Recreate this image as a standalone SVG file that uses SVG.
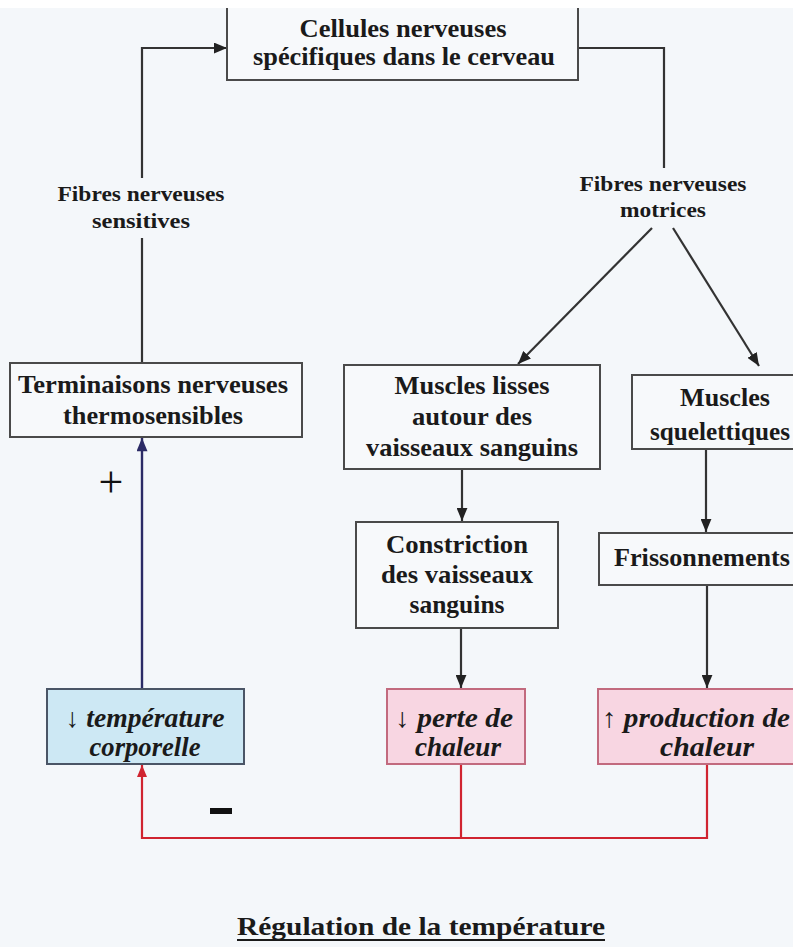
<svg xmlns="http://www.w3.org/2000/svg" width="793" height="947" viewBox="0 0 793 947">
<defs>
<style>
.bg{fill:#f4f7fa}
.box{fill:#f7f9fb;stroke:#4a4a4a;stroke-width:2}
.blue{fill:#cde8f4;stroke:#4a5566;stroke-width:2}
.pink{fill:#f8d6e2;stroke:#c26a7e;stroke-width:2}
.t{font-family:"Liberation Serif","Times New Roman",serif;font-weight:bold;font-size:26px;fill:#1a1a1a}
.ti{font-family:"Liberation Serif","Times New Roman",serif;font-weight:bold;font-style:italic;font-size:27px;fill:#1a1a1a}
.s{font-family:"Liberation Serif","Times New Roman",serif;font-weight:bold;font-size:21px;fill:#1a1a1a}
.ln{fill:none;stroke:#333;stroke-width:2.2}
.lb{fill:none;stroke:#2b2b66;stroke-width:2.4}
.lr{fill:none;stroke:#d02430;stroke-width:2.2}
</style>
<marker id="ak" viewBox="0 0 12 10" refX="12" refY="5" markerWidth="13" markerHeight="11" orient="auto" markerUnits="userSpaceOnUse"><path d="M0,0L12,5L0,10z" fill="#222"/></marker>
<marker id="ab" viewBox="0 0 12 10" refX="12" refY="5" markerWidth="14" markerHeight="11" orient="auto" markerUnits="userSpaceOnUse"><path d="M0,0L12,5L0,10z" fill="#2b2b66"/></marker>
<marker id="ar" viewBox="0 0 12 10" refX="12" refY="5" markerWidth="12" markerHeight="10" orient="auto" markerUnits="userSpaceOnUse"><path d="M0,0L12,5L0,10z" fill="#d02430"/></marker>
</defs>
<rect x="0" y="0" width="793" height="947" fill="#ffffff"/>
<rect class="bg" x="0" y="8" width="793" height="939"/>

<g id="connectors">
<polyline class="ln" points="142,178 142,48 227,48" marker-end="url(#ak)"/>
<line class="ln" x1="142" y1="238" x2="142" y2="363"/>
<polyline class="ln" points="578,48 664,48 664,168"/>
<line class="ln" x1="652" y1="228" x2="518" y2="364" marker-end="url(#ak)"/>
<line class="ln" x1="673" y1="228" x2="759" y2="366" marker-end="url(#ak)"/>
<line class="ln" x1="462" y1="469" x2="462" y2="521" marker-end="url(#ak)"/>
<line class="ln" x1="706" y1="449" x2="706" y2="532" marker-end="url(#ak)"/>
<line class="ln" x1="461" y1="628" x2="461" y2="688" marker-end="url(#ak)"/>
<line class="ln" x1="707" y1="585" x2="707" y2="688" marker-end="url(#ak)"/>
<line class="lb" x1="142" y1="689" x2="142" y2="438" marker-end="url(#ab)"/>
<polyline class="lr" points="461,764 461,838"/>
<polyline class="lr" points="707,764 707,838 142,838 142,765" marker-end="url(#ar)"/>
<text class="s" x="141" y="201" text-anchor="middle" textLength="167" lengthAdjust="spacingAndGlyphs">Fibres nerveuses</text>
<text class="s" x="141" y="228" text-anchor="middle" textLength="98" lengthAdjust="spacingAndGlyphs">sensitives</text>
<text class="s" x="663" y="191" text-anchor="middle" textLength="167" lengthAdjust="spacingAndGlyphs">Fibres nerveuses</text>
<text class="s" x="663" y="217" text-anchor="middle" textLength="86" lengthAdjust="spacingAndGlyphs">motrices</text>
<text x="111" y="497" text-anchor="middle" font-family="Liberation Serif, serif" font-size="44" fill="#111">+</text>
<rect x="210" y="808" width="22" height="6" fill="#111"/>
</g>

<g id="cerveau">
<path class="box" d="M227,8 V80 H578 V8"/>
<text class="t" x="403" y="37" text-anchor="middle" textLength="207" lengthAdjust="spacingAndGlyphs">Cellules nerveuses</text>
<text class="t" x="404" y="65" text-anchor="middle" textLength="302" lengthAdjust="spacingAndGlyphs">spécifiques dans le cerveau</text>
</g>

<g id="terminaisons">
<rect class="box" x="10" y="363" width="292" height="74"/>
<text class="t" x="153" y="393" text-anchor="middle" textLength="270" lengthAdjust="spacingAndGlyphs">Terminaisons nerveuses</text>
<text class="t" x="153" y="424" text-anchor="middle" textLength="180" lengthAdjust="spacingAndGlyphs">thermosensibles</text>
</g>

<g id="muscles-lisses">
<rect class="box" x="344" y="365" width="256" height="104"/>
<text class="t" x="472" y="394" text-anchor="middle" textLength="155" lengthAdjust="spacingAndGlyphs">Muscles lisses</text>
<text class="t" x="472" y="425" text-anchor="middle" textLength="120" lengthAdjust="spacingAndGlyphs">autour des</text>
<text class="t" x="472" y="456" text-anchor="middle" textLength="212" lengthAdjust="spacingAndGlyphs">vaisseaux sanguins</text>
</g>

<g id="muscles-squelettiques">
<rect class="box" x="632" y="375" width="200" height="74"/>
<text class="t" x="680" y="406" textLength="90" lengthAdjust="spacingAndGlyphs">Muscles</text>
<text class="t" x="650" y="440" textLength="140" lengthAdjust="spacingAndGlyphs">squelettiques</text>
</g>

<g id="constriction">
<rect class="box" x="356" y="522" width="202" height="106"/>
<text class="t" x="457" y="553" text-anchor="middle" textLength="142" lengthAdjust="spacingAndGlyphs">Constriction</text>
<text class="t" x="457" y="583" text-anchor="middle" textLength="152" lengthAdjust="spacingAndGlyphs">des vaisseaux</text>
<text class="t" x="457" y="613" text-anchor="middle" textLength="95" lengthAdjust="spacingAndGlyphs">sanguins</text>
</g>

<g id="frissonnements">
<rect class="box" x="599" y="533" width="220" height="52"/>
<text class="t" x="614" y="566" textLength="176" lengthAdjust="spacingAndGlyphs">Frissonnements</text>
</g>

<g id="temperature">
<rect class="blue" x="47" y="689" width="197" height="75"/>
<text class="ti" x="145" y="727" text-anchor="middle" textLength="159" lengthAdjust="spacingAndGlyphs"><tspan style="font-style:normal">↓</tspan> température</text>
<text class="ti" x="145" y="756" text-anchor="middle" textLength="111" lengthAdjust="spacingAndGlyphs">corporelle</text>
</g>

<g id="perte">
<rect class="pink" x="387" y="689" width="138" height="75"/>
<text class="ti" x="454" y="727" text-anchor="middle" textLength="118" lengthAdjust="spacingAndGlyphs"><tspan style="font-style:normal">↓</tspan> perte de</text>
<text class="ti" x="458" y="756" text-anchor="middle" textLength="86" lengthAdjust="spacingAndGlyphs">chaleur</text>
</g>

<g id="production">
<rect class="pink" x="598" y="689" width="220" height="75"/>
<text class="ti" x="602" y="727" textLength="188" lengthAdjust="spacingAndGlyphs"><tspan style="font-style:normal">↑</tspan> production de</text>
<text class="ti" x="707" y="756" text-anchor="middle" textLength="94" lengthAdjust="spacingAndGlyphs">chaleur</text>
</g>

<g id="titre">
<text class="t" x="421" y="935" text-anchor="middle" textLength="368" lengthAdjust="spacingAndGlyphs">Régulation de la température</text>
<line x1="237" y1="940" x2="605" y2="940" stroke="#1a1a1a" stroke-width="2"/>
</g>
</svg>
